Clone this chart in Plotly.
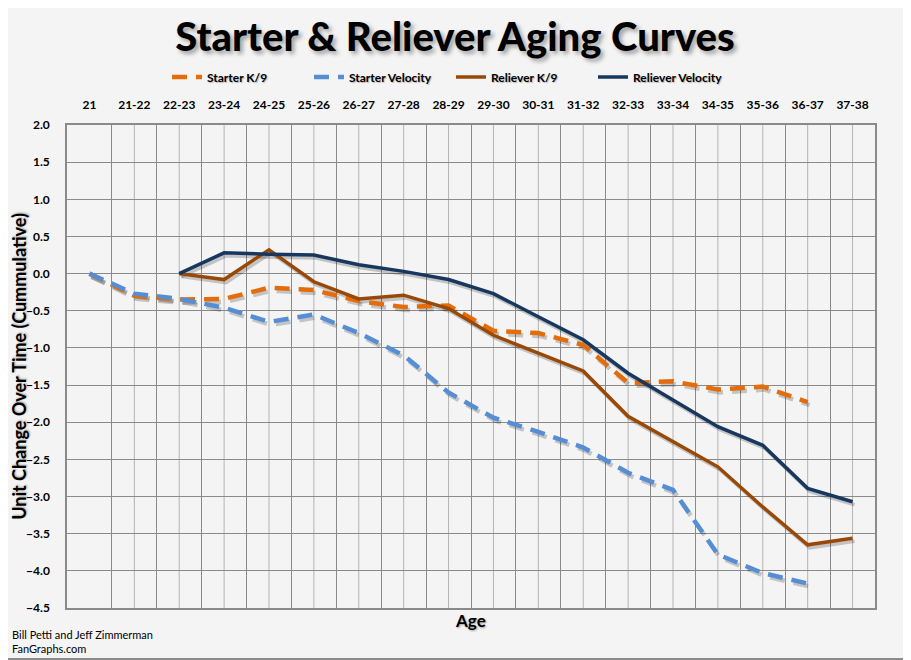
import plotly.graph_objects as go

ages = ["21", "21-22", "22-23", "23-24", "24-25", "25-26", "26-27", "27-28", "28-29",
        "29-30", "30-31", "31-32", "32-33", "33-34", "34-35", "35-36", "36-37", "37-38"]

starter_k9 = [0.0, -0.30, -0.35, -0.34, -0.19, -0.22, -0.37, -0.45, -0.43,
              -0.77, -0.80, -0.96, -1.47, -1.45, -1.56, -1.52, -1.73, None]
starter_velo = [0.0, -0.27, -0.34, -0.46, -0.65, -0.55, -0.80, -1.10, -1.60,
                -1.94, -2.13, -2.34, -2.68, -2.91, -3.78, -4.03, -4.17, None]
reliever_k9 = [None, None, 0.0, -0.08, 0.32, -0.11, -0.34, -0.29, -0.47,
               -0.83, -1.07, -1.31, -1.92, -2.26, -2.60, -3.14, -3.65, -3.56]
reliever_velo = [None, None, 0.0, 0.28, 0.26, 0.25, 0.12, 0.03, -0.08,
                 -0.27, -0.58, -0.89, -1.34, -1.70, -2.06, -2.31, -2.89, -3.07]

# page body has an 8px margin: figure is drawn at (8, 8) of the window
OFF = 8
W, H = 911 - OFF, 660 - OFF
ML, MR, MT, MB = 67 - OFF, 36, 125 - OFF, 52
PW, PH = W - ML - MR, H - MT - MB
BG = "#f4f4f4"
DARK = "#8a8a8a"
LIGHT = "#b4b4b4"
FONT = "Lato"
YR = [-4.5, 2.0]
XR = [-0.5, len(ages) - 0.5]

# shadow offset in pixels (right, down)
SDX, SDY = 2.0, 3.0
ypx = (YR[1] - YR[0]) / PH
xpx = (XR[1] - XR[0]) / PW

fig = go.Figure()
series = [
    ("Starter K/9", starter_k9, "#E46C0A", "dash"),
    ("Starter Velocity", starter_velo, "#558ED5", "dash"),
    ("Reliever K/9", reliever_k9, "#9A4806", "solid"),
    ("Reliever Velocity", reliever_velo, "#17375E", "solid"),
]

def style(color, kind):
    return dict(color=color, width=4.5 if kind == "dash" else 3.5,
                dash="15px,9px" if kind == "dash" else "solid")

# shadows on offset overlay axes
for name, vals, color, kind in series:
    fig.add_trace(go.Scatter(
        x=ages, y=vals, mode="lines", xaxis="x2", yaxis="y2",
        line=style("rgba(0,0,0,0.2)", kind), showlegend=False, hoverinfo="skip",
    ))
# main lines
for name, vals, color, kind in series:
    fig.add_trace(go.Scatter(
        x=ages, y=vals, name=name, mode="lines", xaxis="x3", yaxis="y3",
        line=style(color, kind),
    ))

# lighter vertical lines at category centres
for a in ages:
    fig.add_shape(type="line", xref="x", yref="paper", x0=a, x1=a, y0=0, y1=1,
                  line=dict(color=LIGHT, width=1), layer="below")

# image border (right and bottom visible inside the figure)
fig.add_shape(type="line", xref="paper", yref="paper",
              x0=(W - ML - 1) / PW, x1=(W - ML - 1) / PW,
              y0=-(MB - 1) / PH, y1=(H - MB) / PH,
              line=dict(color=DARK, width=2))
fig.add_shape(type="line", xref="paper", yref="paper",
              x0=-ML / PW, x1=(W - ML) / PW,
              y0=-(MB - 1) / PH, y1=-(MB - 1) / PH,
              line=dict(color=DARK, width=2))

fig.update_layout(
    width=W, height=H,
    margin=dict(l=ML, r=MR, t=MT, b=MB, autoexpand=False),
    paper_bgcolor=BG, plot_bgcolor=BG,
    font=dict(family=FONT, color="#000000"),
    title=dict(text="Starter & Reliever Aging Curves", x=(455 - OFF - ML) / PW, xref="paper",
               xanchor="center", y=1 - (37 - OFF) / H, yanchor="middle",
               font=dict(family=FONT, size=40, weight=900, color="#000000",
                         shadow="3px 3px 4px rgba(0,0,0,0.35)")),
    legend=dict(orientation="h", x=(167 - OFF - ML) / PW, xanchor="left", xref="paper",
                y=1 + (125 - 77) / PH, yanchor="middle", yref="paper",
                font=dict(family=FONT, size=12, weight="bold", color="#000000",
                          shadow="1px 1px 1px rgba(0,0,0,0.25)"),
                bgcolor="rgba(0,0,0,0)", traceorder="normal",
                entrywidth=97, entrywidthmode="pixels"),
    showlegend=True,
    xaxis=dict(
        type="category", categoryorder="array", categoryarray=ages, range=XR,
        side="top", tickson="boundaries", automargin=False,
        showgrid=True, gridcolor=DARK, gridwidth=1,
        showline=True, linecolor=DARK, linewidth=1.5, mirror=True,
        ticks="", ticklabelstandoff=9,
        tickfont=dict(family=FONT, size=12, weight="bold", color="#000000"),
        zeroline=False, fixedrange=True,
    ),
    yaxis=dict(
        range=YR, dtick=0.5, tick0=0, tickformat=".1f", automargin=False,
        showgrid=True, gridcolor=DARK, gridwidth=1,
        showline=True, linecolor=DARK, linewidth=1.5, mirror=True,
        zeroline=False, ticks="", ticklabelstandoff=13,
        tickfont=dict(family=FONT, size=12, weight="bold", color="#000000"),
        title=dict(text="Unit Change Over Time (Cummulative)", standoff=3,
                   font=dict(family=FONT, size=18, weight="bold", color="#000000",
                             shadow="1px 1px 2px rgba(0,0,0,0.3)")),
        fixedrange=True,
    ),
    xaxis2=dict(type="category", categoryorder="array", categoryarray=ages,
                range=[XR[0] - SDX * xpx, XR[1] - SDX * xpx], overlaying="x",
                visible=False, fixedrange=True),
    yaxis2=dict(range=[YR[0] + SDY * ypx, YR[1] + SDY * ypx], overlaying="y",
                visible=False, fixedrange=True),
    xaxis3=dict(type="category", categoryorder="array", categoryarray=ages,
                range=XR, overlaying="x", visible=False, fixedrange=True),
    yaxis3=dict(range=YR, overlaying="y", visible=False, fixedrange=True),
)

fig.add_annotation(text="Age", xref="paper", yref="paper", x=(470 - OFF - ML) / PW,
                   y=-(620 - 608) / PH,
                   xanchor="center", yanchor="middle", showarrow=False,
                   font=dict(family=FONT, size=17, weight="bold", color="#000000",
                             shadow="1px 1px 2px rgba(0,0,0,0.35)"))
fig.add_annotation(text="Bill Petti and Jeff Zimmerman<br>FanGraphs.com",
                   xref="paper", yref="paper", x=-(ML - (10 - OFF)) / PW,
                   y=-(641 - 608) / PH,
                   xanchor="left", yanchor="middle", align="left", showarrow=False,
                   font=dict(family=FONT, size=11, color="#000000"))

fig.write_html("out.html")
